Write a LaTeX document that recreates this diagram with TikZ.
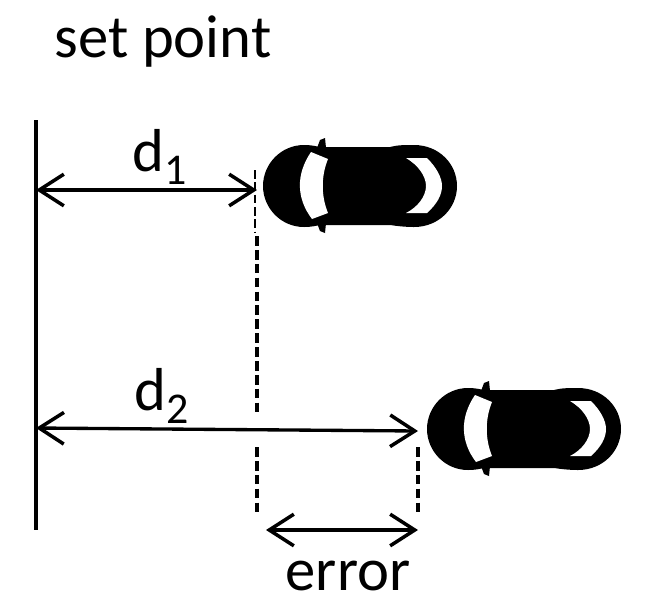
\documentclass[tikz,border=0pt]{standalone}
\usepackage{fontspec}
\setmainfont{Carlito}
\usetikzlibrary{arrows.meta}
\tikzset{
  dim/.style={line width=1.9pt,{Straight Barb[length=14pt,width=18pt,line width=2pt]}-{Straight Barb[length=14pt,width=18pt,line width=2pt]}},
  guide/.style={line width=2.1pt,dash pattern=on 5.5pt off 2.4pt},
  thinguide/.style={line width=0.8pt,dash pattern=on 5pt off 2pt},
  label/.style={inner sep=0pt,font=\fontsize{34.5}{40}\selectfont},
  car/.pic={
    % body
    \fill[black] (57,-39) -- (127,-39) .. controls (134,-41) and (142,-41) .. (151,-41)
      .. controls (176,-41) and (194,-22) .. (194,0)
      .. controls (194,22) and (176,41) .. (151,41)
      .. controls (142,41) and (134,40) .. (127,39) -- (57,39)
      .. controls (52,40) and (48,41) .. (41,41)
      .. controls (18,41) and (0,22) .. (0,0)
      .. controls (0,-22) and (18,-41) .. (41,-41)
      .. controls (48,-41) and (52,-40) .. (57,-39) -- cycle;
    % mirrors
    \fill[black] (54,-38) -- (57,-46) -- (62,-48) -- (63,-38) -- cycle;
    \fill[black] (54,37) -- (57,45) -- (62,47) -- (63,37) -- cycle;
    % windows
    \fill[white] (48,-34) -- (65,-27) .. controls (58,-10) and (58,10) .. (65,27)
      -- (49,33) .. controls (33,12) and (33,-12) .. (48,-34) -- cycle;
    \fill[white] (143,-28) -- (164,-28) .. controls (174,-18) and (179,-8) .. (179,0)
      .. controls (179,9) and (174,18) .. (164,27) -- (143,27)
      .. controls (155,21) and (163,10) .. (163,0)
      .. controls (163,-10) and (155,-21) .. (143,-28) -- cycle;
  }
}
\newcommand{\dsub}[1]{d\raisebox{-.2em}{\fontsize{25}{30}\selectfont #1}}
\begin{document}
\begin{tikzpicture}[x=0.2mm,y=-0.2mm]
  \useasboundingbox (0,0) rectangle (650,612);
  \node[label] (setpoint) at (163,42) {set point};
  \coordinate (top) at (36,120);
  \coordinate (bottom) at (36,530);
  \draw[line width=2.1pt] (top) -- (bottom);
  \pic at (263,186) {car};
  \pic at (427,429) {car};
  % distances
  \coordinate (a1) at (36,190);
  \coordinate (b1) at (257,190);
  \coordinate (a2) at (36,428);
  \coordinate (b2) at (418,431);
  \coordinate (a3) at (266,530);
  \coordinate (b3) at (418,530);
  \draw[dim] (a1) -- (b1);
  \draw[dim] (a2) -- (b2);
  \draw[dim] (a3) -- (b3);
  \node[label] (done) at (160,157) {\dsub{1}};
  \node[label] (dtwo) at (162,396) {\dsub{2}};
  \node[label] (error) at (348,576) {error};
  % guides
  \coordinate (g0) at (255,170);
  \coordinate (g1) at (255,232);
  \coordinate (g2) at (257,236);
  \coordinate (g3) at (257,412);
  \coordinate (g4) at (257,447);
  \coordinate (g5) at (257,515);
  \coordinate (g6) at (418,447);
  \coordinate (g7) at (418,515);
  \draw[thinguide] (g0) -- (g1);
  \draw[guide] (g2) -- (g3);
  \draw[guide] (g4) -- (g5);
  \draw[guide] (g6) -- (g7);
\end{tikzpicture}
\end{document}
